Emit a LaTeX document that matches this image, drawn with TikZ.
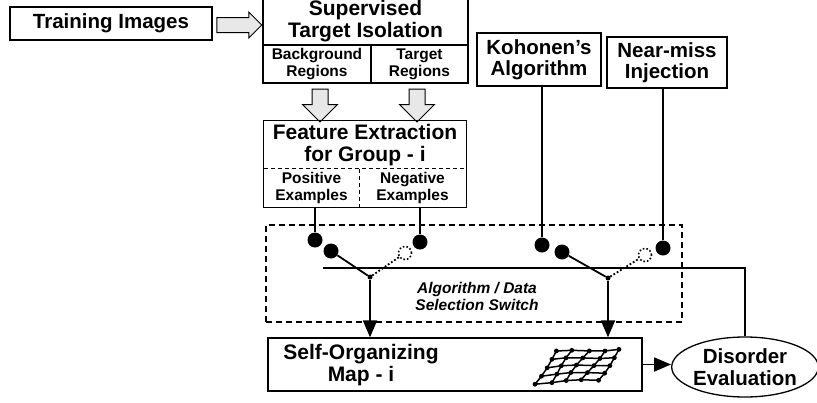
\documentclass[tikz,border=0pt]{standalone}
\usepackage{fontspec}
\setmainfont{Liberation Sans}
\usetikzlibrary{arrows.meta,calc,shapes.geometric,shapes.arrows}

\begin{document}
\begin{tikzpicture}[x=1pt,y=-1pt,
		box/.style={draw,line width=1.3pt,inner sep=0pt,align=center,font=\fontsize{20.5}{21.5}\selectfont\bfseries},
		lbl/.style={inner sep=0pt,align=center,font=\fontsize{21}{21.5}\selectfont\bfseries},
		sub/.style={inner sep=0pt,align=center,font=\fontsize{15.5}{17}\selectfont\bfseries},
		fat/.style={single arrow,draw,line width=1pt,fill=gray!18,inner sep=7pt,single arrow head extend=5.5pt,minimum height=45pt},
		fatdown/.style={fat,rotate=-90,inner sep=7.5pt,single arrow head extend=9.5pt,minimum height=33pt},
		dot/.style={circle,fill=black,inner sep=0pt,minimum size=15pt},
		hole/.style={circle,draw,dotted,line width=1.6pt,inner sep=0pt,minimum size=13pt},
		knot/.style={circle,fill=black,inner sep=0pt,minimum size=5pt},
		wire/.style={line width=1.8pt},
		arr/.style={wire,-{Triangle[length=17pt,width=14pt]}}]
			\useasboundingbox (0,0) rectangle (817,402);
			\node[box,minimum width=202pt,minimum height=33pt] (train) at (111,23.5) {Training Images};
			\node[box,font=\fontsize{21}{21.5}\selectfont\bfseries,minimum width=205pt,minimum height=48pt] (sup) at (365.5,21) {Supervised\\Target Isolation};
			\node[box,sub,minimum width=108pt,minimum height=38pt] (bg) at (317,64) {Background\\Regions};
			\node[box,sub,minimum width=97pt,minimum height=38pt] (tgt) at (419.5,64) {Target\\Regions};
			\node[fat] (a0) at (235.5,25) {};
			\node[fatdown] (a1) at (320,101.5) {};
			\node[fatdown] (a2) at (417,101.5) {};
			\node[lbl,minimum width=202pt,minimum height=48pt] (feat) at (365,145) {Feature Extraction\\for Group - i};
			\node[sub,minimum width=95pt,minimum height=38pt] (pos) at (311.5,188) {Positive\\Examples};
			\node[sub,minimum width=107pt,minimum height=38pt] (neg) at (412.5,188) {Negative\\Examples};
			\draw[line width=1.3pt] (feat.north west) rectangle (neg.south east);
			\draw[line width=1.1pt,dash pattern=on 4pt off 3pt] (pos.north west) -- (neg.north east);
			\draw[line width=1.1pt,dash pattern=on 4pt off 3pt] (pos.north east) -- (pos.south east);
			\node[box,minimum width=124pt,minimum height=53pt] (koh) at (539,59.5) {Kohonen's\\Algorithm};
			\node[box,minimum width=120pt,minimum height=51pt] (near) at (667,62.5) {Near-miss\\Injection};
			\node[draw,line width=1.2pt,dash pattern=on 6pt off 4pt,inner sep=0pt,minimum width=416pt,minimum height=97pt] (sel) at (474,273.5) {};
			\node[sub,font=\fontsize{15.5}{17}\selectfont\bfseries\itshape] (seltxt) at (477,296) {Algorithm / Data\\Selection Switch};
			\node[box,minimum width=374pt,minimum height=53pt] (som) at (455,364.5) {};
			\node[lbl] (somtxt) at (361,365) {Self-Organizing\\Map - i};
			\node[ellipse,draw,line width=1.3pt,inner sep=0pt,minimum width=144pt,minimum height=60pt,align=center,font=\fontsize{20.5}{21.5}\selectfont\bfseries] (eval) at (745,367) {Disorder\\Evaluation};
			\node[dot] (p1) at (315,240) {};
			\node[dot] (p2) at (331,251) {};
			\node[dot] (n1) at (420,242) {};
			\node[hole] (o1) at (405,253) {};
			\node[knot] (j1) at (370,277) {};
			\node[dot] (k1) at (542,245) {};
			\node[dot] (k2) at (562,252) {};
			\node[dot] (m1) at (663,248) {};
			\node[hole] (o2) at (645,255) {};
			\node[knot] (j2) at (608,278) {};
			\coordinate (fb) at (323,268);
			\draw[wire] (pos.south -| p1) -- (p1);
			\draw[wire] (neg.south -| n1) -- (n1);
			\draw[wire] (koh.south -| k1) -- (k1);
			\draw[wire] (near.south -| m1) -- (m1);
			\draw[wire] (p2) -- (j1);
			\draw[wire,dotted] (j1) -- (o1);
			\draw[wire] (k2) -- (j2);
			\draw[wire,dotted] (j2) -- (o2);
			\draw[line width=1.5pt] (eval.north) |- (fb);
			\draw[arr] (j1) -- (j1 |- som.north);
			\draw[arr] (j2) -- (j2 |- som.north);
			\draw[arr] (som.east) -- (som.east -| eval.west);
			\foreach \i in {0,...,4}
				\foreach \j in {0,...,4}
					\coordinate (g\i\j) at ($(535,383)+\i*(15.75,-0.75)+\j*(5.5,-7.75)+({1.2*sin(97*\i+53*\j)},{1.2*cos(71*\i+37*\j)})$);
			\foreach \i in {0,...,4}
				\draw[line width=1.5pt] (g\i0) -- (g\i1) -- (g\i2) -- (g\i3) -- (g\i4);
			\foreach \j in {0,...,4}
				\draw[line width=1.5pt] (g0\j) -- (g1\j) -- (g2\j) -- (g3\j) -- (g4\j);
			\foreach \i in {0,...,4}
				\foreach \j in {0,...,4}
					\fill (g\i\j) circle (2.4pt);
		\end{tikzpicture}
\end{document}
